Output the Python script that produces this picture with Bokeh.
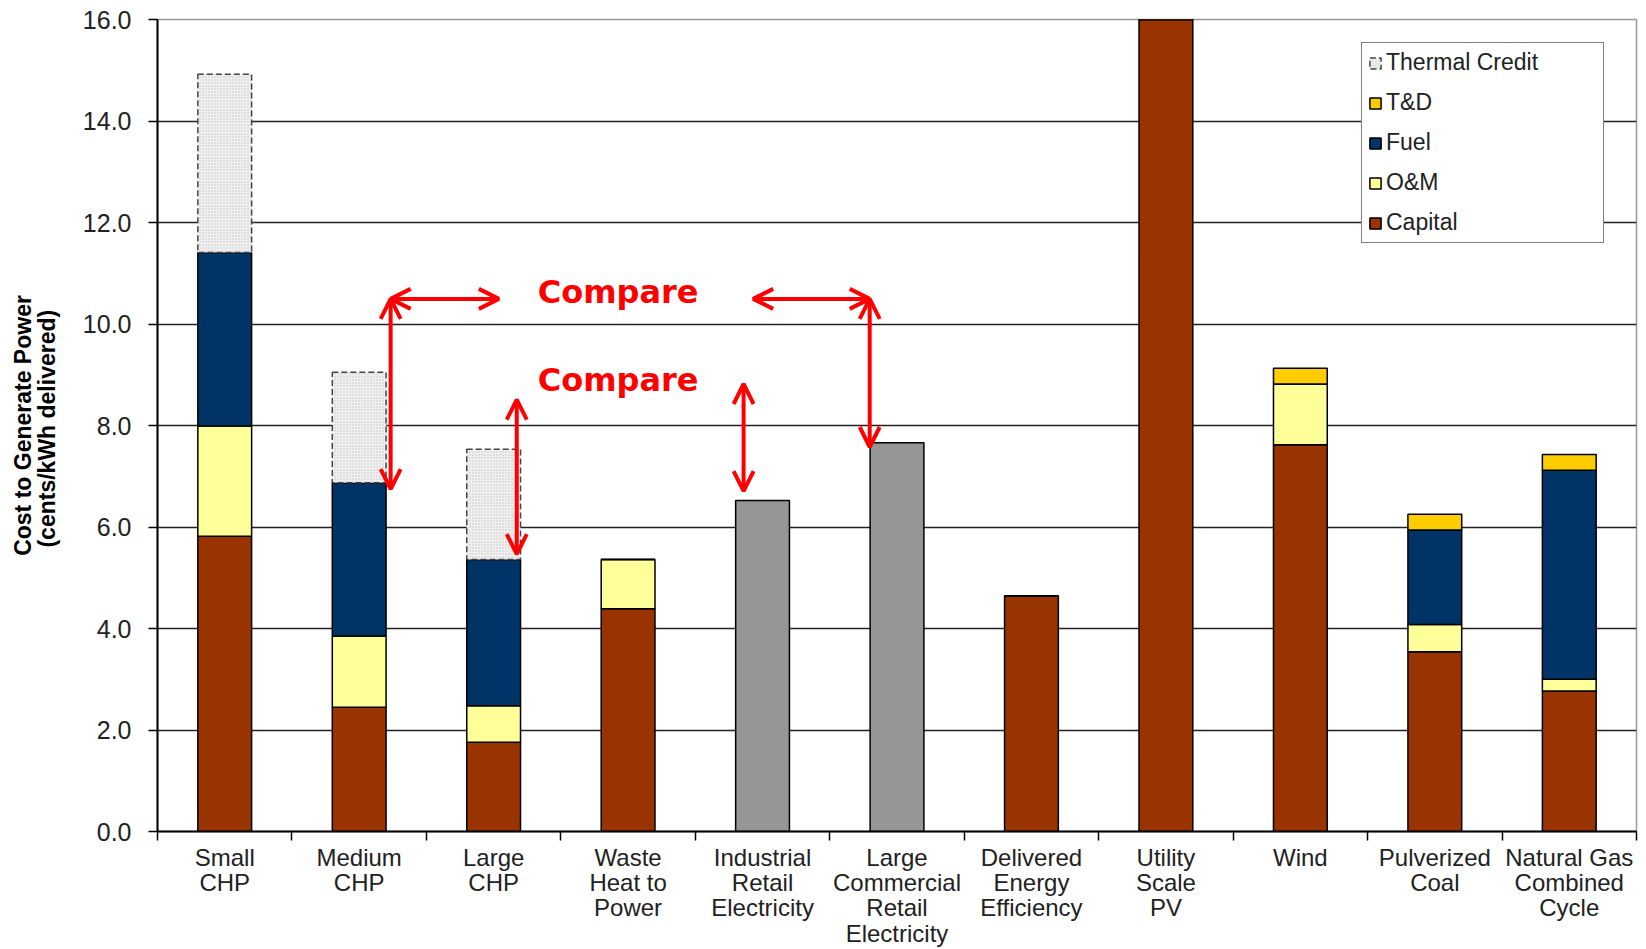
from bokeh.plotting import figure
from bokeh.models import (Range1d, FixedTicker, Legend, LegendItem, Arrow, OpenHead,
                          Label, ColumnDataSource)
from bokeh.embed import file_html
from bokeh.resources import INLINE

categories = ["Small\nCHP", "Medium\nCHP", "Large\nCHP", "Waste\nHeat to\nPower",
              "Industrial\nRetail\nElectricity", "Large\nCommercial\nRetail\nElectricity",
              "Delivered\nEnergy\nEfficiency", "Utility\nScale\nPV", "Wind",
              "Pulverized\nCoal", "Natural Gas\nCombined\nCycle"]
capital = [5.82, 2.45, 1.76, 4.39, 0, 0, 4.64, 20.0, 7.62, 3.54, 2.77]
om      = [2.17, 1.40, 0.72, 0.97, 0, 0, 0,    0,    1.20, 0.54, 0.23]
fuel    = [3.42, 3.02, 2.88, 0,    0, 0, 0,    0,    0,    1.86, 4.12]
td      = [0,    0,    0,    0,    0, 0, 0,    0,    0.31, 0.31, 0.31]
thermal = [3.51, 2.18, 2.17, 0,    0, 0, 0,    0,    0,    0,    0]
retail  = [0,    0,    0,    0,    6.52, 7.66, 0, 0, 0,    0,    0]

y_ticks = [0, 2, 4, 6, 8, 10, 12, 14, 16]

# annotation arrows: (x_start, y_start, x_end, y_end)
arrows = [(1.234, 10.495, 2.039, 10.495),
          (1.234, 10.495, 1.234, 6.748),
          (2.172, 8.508, 2.172, 5.465),
          (3.859, 8.818, 3.859, 6.707),
          (3.930, 10.495, 4.797, 10.495),
          (4.797, 10.495, 4.797, 7.576)]
compare_labels = [(2.328, 10.64, "Compare"), (2.328, 8.90, "Compare")]

C_CAP = "#993300"
C_OM = "#FFFF99"
C_FUEL = "#003366"
C_TD = "#FFCC00"
C_GRAY = "#969696"

xs = list(range(len(categories)))

p = figure(width=1646, height=949, output_backend="svg", toolbar_location=None,
           x_range=Range1d(-0.5, len(categories) - 0.5), y_range=Range1d(0, 16),
           min_border_left=157, min_border_right=10, min_border_top=19,
           min_border_bottom=118)
p.background_fill_color = "white"
p.border_fill_color = "white"
p.outline_line_color = "#999999"
p.outline_line_width = 1.5

src = ColumnDataSource(dict(x=xs, capital=capital, om=om, fuel=fuel, td=td))
stack_names = ["capital", "om", "fuel", "td"]
r_stack = p.vbar_stack(stack_names, x="x", width=0.4, source=src,
                       fill_color=[C_CAP, C_OM, C_FUEL, C_TD],
                       line_color="black", line_width=1.5)

# thermal credit (dashed, stippled) on top of the fuel layer
tx, tb, tt = [], [], []
for i, v in enumerate(thermal):
    if v > 0:
        base = capital[i] + om[i] + fuel[i] + td[i]
        tx.append(xs[i]); tb.append(base); tt.append(base + v)
r_th = p.vbar(x=tx, bottom=tb, top=tt, width=0.4, fill_color="#f0f0f0",
              hatch_pattern="dot", hatch_scale=3, hatch_color="#c4c4c4", hatch_weight=1,
              line_color="#444444", line_width=1.5, line_dash="6 3")

# grey retail electricity bars
gx = [xs[i] for i, v in enumerate(retail) if v > 0]
gt = [v for v in retail if v > 0]
p.vbar(x=gx, bottom=0, top=gt, width=0.4, fill_color=C_GRAY, line_color="black",
       line_width=1.5)

# axes
p.xgrid.visible = False
p.ygrid.grid_line_color = "#222222"
p.ygrid.grid_line_width = 1.5
p.ygrid.ticker = FixedTicker(ticks=y_ticks)

p.yaxis.ticker = FixedTicker(ticks=y_ticks)
p.yaxis.major_label_overrides = {t: f"{t:.1f}" for t in y_ticks}
p.yaxis.major_label_text_font = "Liberation Sans"
p.yaxis.major_label_text_font_size = "25px"
p.yaxis.major_label_text_color = "#222222"
p.yaxis.major_tick_out = 9
p.yaxis.major_tick_in = 0
p.yaxis.minor_tick_line_color = None
p.yaxis.axis_line_width = 2
p.yaxis.major_tick_line_width = 1.5
p.yaxis.major_label_standoff = 17
p.yaxis.axis_label = "Cost to Generate Power\n(cents/kWh  delivered)"
p.yaxis.axis_label_text_font = "Liberation Sans"
p.yaxis.axis_label_text_font_style = "bold"
p.yaxis.axis_label_text_font_size = "23px"
p.yaxis.axis_label_text_line_height = 0.9
p.yaxis.axis_label_text_color = "black"
p.yaxis.axis_label_standoff = 20

p.xaxis.ticker = FixedTicker(ticks=xs, minor_ticks=[i + 0.5 for i in xs[:-1]] + [-0.5, xs[-1] + 0.5])
p.xaxis.major_label_overrides = {i: c for i, c in zip(xs, categories)}
p.xaxis.major_tick_out = 0
p.xaxis.major_tick_in = 0
p.xaxis.minor_tick_out = 9
p.xaxis.minor_tick_in = 0
p.xaxis.minor_tick_line_color = "black"
p.xaxis.minor_tick_line_width = 1.5
p.xaxis.axis_line_width = 2
p.xaxis.major_label_text_font = "Liberation Sans"
p.xaxis.major_label_text_font_size = "24px"
p.xaxis.major_label_text_color = "#222222"
p.xaxis.major_label_text_line_height = 0.94
p.xaxis.major_label_standoff = 3

# arrows
for (x0, y0, x1, y1) in arrows:
    p.add_layout(Arrow(start=OpenHead(size=20, line_color="#FF0000", line_width=4),
                       end=OpenHead(size=20, line_color="#FF0000", line_width=4),
                       x_start=x0, y_start=y0, x_end=x1, y_end=y1,
                       line_color="#FF0000", line_width=4))
for (x0, y0, t) in compare_labels:
    p.add_layout(Label(x=x0, y=y0, text=t, text_color="#FF0000", text_font="DejaVu Sans",
                       text_font_style="bold", text_font_size="32px",
                       text_baseline="middle", text_align="left"))

# legend
items = [LegendItem(label="Thermal Credit", renderers=[r_th]),
         LegendItem(label="T&D", renderers=[r_stack[3]]),
         LegendItem(label="Fuel", renderers=[r_stack[2]]),
         LegendItem(label="O&M", renderers=[r_stack[1]]),
         LegendItem(label="Capital", renderers=[r_stack[0]])]
legend = Legend(items=items, location=(1204, 588), padding=6, spacing=13,
                glyph_width=14, glyph_height=14, label_height=22, label_standoff=4,
                label_width=211, label_text_font="Liberation Sans",
                label_text_font_size="23px", label_text_color="#222222",
                border_line_color="black", border_line_width=1.5,
                background_fill_color="white", background_fill_alpha=1)
p.add_layout(legend)

open("out.html", "w").write(file_html(p, INLINE))
